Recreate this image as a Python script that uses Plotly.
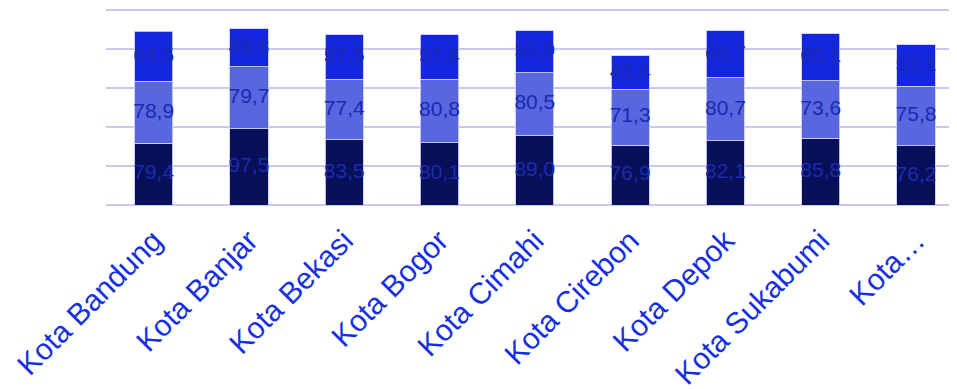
import plotly.graph_objects as go

categories = ["Kota Bandung", "Kota Banjar", "Kota Bekasi", "Kota Bogor", "Kota Cimahi",
              "Kota Cirebon", "Kota Depok", "Kota Sukabumi", "Kota…"]
series_bottom = [79.4, 97.5, 83.5, 80.1, 89.0, 76.9, 82.1, 85.8, 76.2]
series_middle = [78.9, 79.7, 77.4, 80.8, 80.5, 71.3, 80.7, 73.6, 75.8]
series_top = [64.5, 48.8, 57.5, 57.4, 53.9, 43.4, 60.7, 60.1, 53.1]

colors = ["#08105a", "#5866e0", "#1426de"]
series = [("S1", series_bottom), ("S2", series_middle), ("S3", series_top)]

fig = go.Figure()
base = [0.0] * len(categories)
for (name, vals), col in zip(series, colors):
    fig.add_trace(go.Bar(
        x=categories, y=vals, name=name,
        marker=dict(color=col, line=dict(color="rgba(205,205,245,0.9)", width=1)),
        width=0.4,
        hoverinfo="y",
    ))
    mids = [b + v / 2 for b, v in zip(base, vals)]
    fig.add_trace(go.Scatter(
        x=categories, y=mids, mode="text",
        text=[f"{v:.1f}".replace(".", ",") for v in vals],
        textposition="middle center",
        textfont=dict(family="Liberation Sans, Arial, sans-serif", size=21,
                      color="#1a2bb0"),
        cliponaxis=False, hoverinfo="skip",
    ))
    base = [b + v for b, v in zip(base, vals)]

fig.update_layout(
    barmode="stack",
    width=957, height=389,
    margin=dict(l=98, r=8, t=0, b=192),
    paper_bgcolor="white", plot_bgcolor="white",
    showlegend=False,
    font=dict(family="Liberation Sans, Arial, sans-serif"),
    xaxis=dict(range=[-0.5, 8.43], tickangle=-45, ticklabelstandoff=11,
               tickfont=dict(size=30, color="#1630e0"),
               showgrid=False, showline=False, ticks="", automargin=False),
    yaxis=dict(range=[0, 252.5], tickvals=[0, 50, 100, 150, 200, 250],
               showticklabels=False, gridcolor="#c8c8f5", gridwidth=2,
               zeroline=True, zerolinecolor="#c8c8f5", zerolinewidth=2,
               automargin=False),
)

fig.write_html("out.html")
